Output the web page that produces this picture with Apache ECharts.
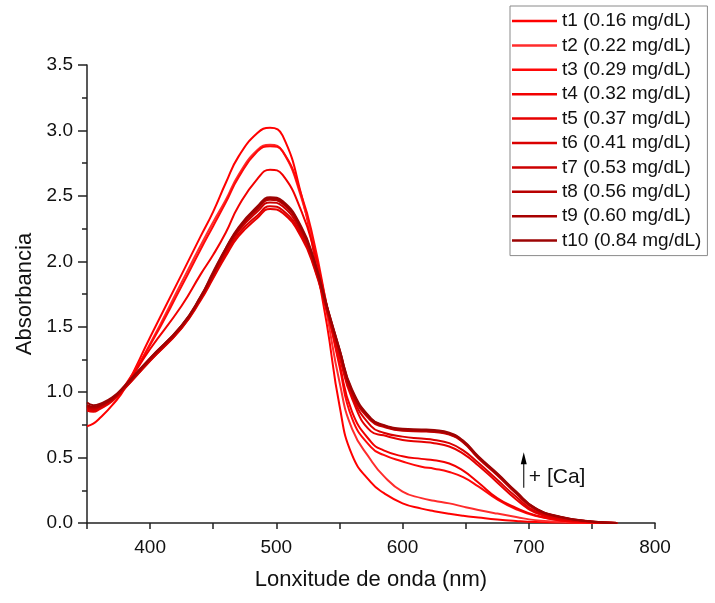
<!DOCTYPE html>
<html>
<head>
<meta charset="utf-8">
<script src="https://cdn.jsdelivr.net/npm/echarts@6/dist/echarts.min.js"></script>
<style>
  html, body { margin: 0; padding: 0; background: #fff; }
  #chart { width: 715px; height: 603px; }
</style>
</head>
<body>
<div id="chart"></div>
<script>
// wavelength grid (nm)
const wl = [350, 355, 360, 370, 380, 400, 425, 440, 450, 460, 470, 485, 495, 505, 520, 530, 540, 550, 560,
            575, 585, 600, 615, 625, 637, 648, 660, 675, 690, 705, 725, 750, 770];

// absorbance values
const t1 = [0.74, 0.76, 0.80, 0.90, 1.03, 1.42, 1.90, 2.19, 2.38, 2.60, 2.80, 2.98, 3.02, 2.96, 2.50, 2.05, 1.52, 0.90, 0.52,
            0.31, 0.23, 0.15, 0.11, 0.09, 0.07, 0.055, 0.042, 0.027, 0.016, 0.008, 0.003, 0, 0];
const t2 = [0.88, 0.87, 0.88, 0.94, 1.04, 1.37, 1.84, 2.12, 2.30, 2.47, 2.66, 2.85, 2.89, 2.84, 2.48, 2.10, 1.60, 1.08, 0.72,
            0.48, 0.36, 0.24, 0.19, 0.17, 0.15, 0.125, 0.10, 0.072, 0.046, 0.022, 0.01, 0.003, 0];
const t3 = [0.90, 0.88, 0.89, 0.95, 1.05, 1.36, 1.81, 2.09, 2.27, 2.45, 2.64, 2.84, 2.88, 2.84, 2.50, 2.14, 1.66, 1.20, 0.80,
            0.58, 0.52, 0.47, 0.43, 0.415, 0.39, 0.35, 0.28, 0.18, 0.105, 0.055, 0.02, 0.005, 0];
const t4 = [0.89, 0.87, 0.88, 0.94, 1.04, 1.33, 1.66, 1.90, 2.05, 2.22, 2.42, 2.63, 2.70, 2.66, 2.38, 2.08, 1.66, 1.22, 0.85,
            0.62, 0.555, 0.51, 0.49, 0.48, 0.455, 0.40, 0.31, 0.19, 0.115, 0.06, 0.02, 0.005, 0];
const t5 = [0.86, 0.85, 0.87, 0.93, 1.03, 1.24, 1.49, 1.70, 1.87, 2.04, 2.19, 2.33, 2.40, 2.37, 2.18, 1.95, 1.62, 1.27, 0.95,
            0.70, 0.67, 0.635, 0.62, 0.61, 0.585, 0.53, 0.44, 0.31, 0.18, 0.08, 0.03, 0.008, 0];
const t6 = [0.87, 0.86, 0.88, 0.94, 1.03, 1.24, 1.49, 1.71, 1.88, 2.06, 2.21, 2.35, 2.42, 2.39, 2.20, 1.96, 1.63, 1.29, 0.97,
            0.74, 0.69, 0.66, 0.645, 0.635, 0.61, 0.555, 0.46, 0.33, 0.20, 0.09, 0.035, 0.008, 0];
const t7 = [0.88, 0.87, 0.89, 0.94, 1.04, 1.25, 1.50, 1.72, 1.90, 2.08, 2.23, 2.38, 2.45, 2.42, 2.22, 1.98, 1.64, 1.31, 0.99,
            0.78, 0.735, 0.705, 0.70, 0.695, 0.675, 0.615, 0.495, 0.365, 0.225, 0.105, 0.043, 0.01, 0];
const t8 = [0.89, 0.88, 0.89, 0.95, 1.04, 1.25, 1.50, 1.72, 1.90, 2.09, 2.24, 2.40, 2.47, 2.44, 2.24, 1.99, 1.65, 1.32, 1.00,
            0.79, 0.74, 0.71, 0.705, 0.70, 0.68, 0.62, 0.50, 0.37, 0.23, 0.11, 0.045, 0.01, 0];
const t9 = [0.90, 0.89, 0.90, 0.95, 1.05, 1.26, 1.51, 1.73, 1.91, 2.10, 2.25, 2.41, 2.48, 2.45, 2.25, 2.00, 1.66, 1.33, 1.01,
            0.795, 0.745, 0.715, 0.71, 0.705, 0.685, 0.625, 0.505, 0.375, 0.235, 0.113, 0.047, 0.011, 0];
const t10 = [0.92, 0.90, 0.91, 0.96, 1.05, 1.26, 1.51, 1.73, 1.92, 2.10, 2.26, 2.42, 2.49, 2.46, 2.26, 2.01, 1.66, 1.33, 1.02,
             0.80, 0.75, 0.72, 0.715, 0.71, 0.69, 0.63, 0.51, 0.38, 0.24, 0.115, 0.048, 0.012, 0];

const names = [
  "t1 (0.16 mg/dL)", "t2 (0.22 mg/dL)", "t3 (0.29 mg/dL)", "t4 (0.32 mg/dL)", "t5 (0.37 mg/dL)",
  "t6 (0.41 mg/dL)", "t7 (0.53 mg/dL)", "t8 (0.56 mg/dL)", "t9 (0.60 mg/dL)", "t10 (0.84 mg/dL)"
];
const curves = [t1, t2, t3, t4, t5, t6, t7, t8, t9, t10];
const colors = ["#ff0000", "#ff2c2c", "#ff0808", "#f20000", "#e60000", "#da0000", "#cc0000", "#b80000", "#a80000", "#9c0404"];

const font = "'Liberation Sans', Arial, sans-serif";

const chart = echarts.init(document.getElementById("chart"));

const option = {
  animation: false,
  backgroundColor: "#fff",
  textStyle: { fontFamily: font },
  grid: { left: 87, right: 60, top: 65, bottom: 80 },
  legend: {
    orient: "vertical",
    left: 510,
    top: 6,
    padding: [5, 6, 5, 2],
    icon: "rect",
    itemWidth: 45,
    itemHeight: 2.5,
    itemGap: 4.4,
    borderColor: "#8a8a8a",
    borderWidth: 1,
    textStyle: { fontFamily: font, fontSize: 19, color: "#111", lineHeight: 20, padding: [0, 0, 0, 0] },
    data: names
  },
  xAxis: {
    type: "value",
    min: 350,
    max: 800,
    interval: 50,
    name: "Lonxitude de onda (nm)",
    nameLocation: "middle",
    nameGap: 46,
    nameTextStyle: { fontFamily: font, fontSize: 22, color: "#111" },
    axisLine: { onZero: false, lineStyle: { color: "#222", width: 1.5 } },
    axisTick: { inside: false, length: 6, lineStyle: { color: "#222", width: 1.5 } },
    axisLabel: {
      margin: 15,
      fontFamily: font,
      fontSize: 19,
      color: "#111",
      formatter: (v) => (v % 100 === 0 ? String(v) : "")
    },
    splitLine: { show: false }
  },
  yAxis: {
    type: "value",
    min: 0,
    max: 3.5,
    interval: 0.5,
    name: "Absorbancia",
    nameLocation: "middle",
    nameGap: 51,
    nameTextStyle: { fontFamily: font, fontSize: 22, color: "#111" },
    axisLine: { show: true, onZero: false, lineStyle: { color: "#222", width: 1.5 } },
    axisTick: { show: true, length: 9, lineStyle: { color: "#222", width: 1.5 } },
    minorTick: { show: true, splitNumber: 2, length: 5, lineStyle: { color: "#222", width: 1.5 } },
    axisLabel: {
      margin: 14,
      fontFamily: font,
      fontSize: 19,
      color: "#111",
      formatter: (v) => v.toFixed(1)
    },
    splitLine: { show: false }
  },
  series: curves.map((arr, k) => ({
    name: names[k],
    type: "line",
    symbol: "none",
    smooth: 0.5,
    z: 2 + k,
    lineStyle: { color: colors[k], width: 2 },
    itemStyle: { color: colors[k] },
    data: wl.map((x, i) => [x, arr[i]])
  }))
};

chart.setOption(option);

// annotation: arrow + "+ [Ca]" placed in data coordinates
const pBottom = chart.convertToPixel({ gridIndex: 0 }, [696, 0.27]);
const pTop = chart.convertToPixel({ gridIndex: 0 }, [696, 0.54]);
const pText = chart.convertToPixel({ gridIndex: 0 }, [700, 0.35]);

chart.setOption({
  graphic: [
    {
      type: "line",
      shape: { x1: pBottom[0], y1: pBottom[1], x2: pTop[0], y2: pTop[1] + 8 },
      style: { stroke: "#222", lineWidth: 1.2 }
    },
    {
      type: "polygon",
      shape: { points: [[pTop[0], pTop[1]], [pTop[0] - 3, pTop[1] + 12], [pTop[0] + 3, pTop[1] + 12]] },
      style: { fill: "#000" }
    },
    {
      type: "text",
      x: pText[0],
      y: pText[1],
      style: {
        text: "+ [Ca]",
        fontFamily: font,
        fontSize: 21,
        fill: "#111",
        verticalAlign: "middle",
        align: "left"
      }
    }
  ]
});
</script>
</body>
</html>
